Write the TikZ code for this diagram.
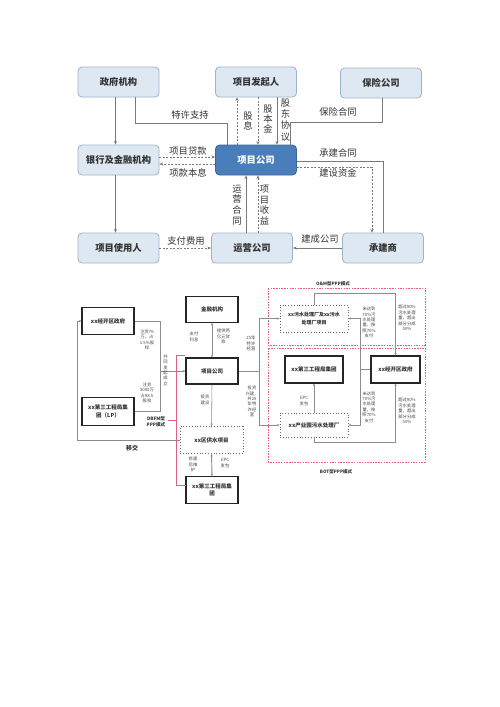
\documentclass[tikz,border=0pt]{standalone}
\usepackage{fontspec}
\setmainfont{Noto Sans CJK SC}
\usetikzlibrary{arrows.meta}
\definecolor{boxfill}{HTML}{DEE8F3}
\definecolor{boxdraw}{HTML}{9DB3CC}
\definecolor{projfill}{HTML}{4A7EBB}
\definecolor{projdraw}{HTML}{3A6699}
\definecolor{lncol}{HTML}{7A7A7A}
\definecolor{blcol}{HTML}{8C8C8C}
\definecolor{txtcol}{HTML}{333333}
\definecolor{redd}{HTML}{E0607E}
\begin{document}
\begin{tikzpicture}[x=1pt,y=-1pt,
  tbox/.style={draw=boxdraw,fill=boxfill,rounded corners=4pt,line width=0.8pt,
    minimum width=81pt,minimum height=30pt,inner sep=0pt,text=txtcol,
    font=\bfseries\fontsize{9.3}{11}\selectfont},
  pbox/.style={tbox,fill=projfill,draw=projdraw,text=white},
  tln/.style={draw=lncol,line width=0.55pt},
  tdsh/.style={tln,dash pattern=on 2pt off 1.5pt},
  tarr/.style={-{Stealth[length=3.6pt,width=3pt]}},
  tlab/.style={text=txtcol,font=\fontsize{9.3}{9.6}\selectfont,inner sep=0pt,align=center},
  bbox/.style={draw=black!85,line width=1.1pt,fill=white,inner sep=0pt,text=txtcol,
    align=center,font=\bfseries\fontsize{5.5}{7.5}\selectfont},
  dbox/.style={bbox,draw=black!60,line width=0.8pt,dotted},
  bln/.style={draw=blcol,line width=0.6pt},
  barr/.style={-{Stealth[length=2.6pt,width=2.2pt]}},
  bdarr/.style={{Stealth[length=2.6pt,width=2.2pt]}-{Stealth[length=2.6pt,width=2.2pt]}},
  blab/.style={text=txtcol!90,font=\fontsize{4.3}{5.4}\selectfont,inner sep=0pt,align=center},
  redbox/.style={draw=redd,line width=0.6pt,dash pattern=on 1.5pt off 1.2pt},
  ]
\useasboundingbox[fill=white] (0,0) rectangle (500,707);

% ---------------- top diagram ----------------
\node[tbox] (gov) at (118.5,82) {政府机构};
\node[tbox] (sponsor) at (256,82) {项目发起人};
\node[tbox] (insure) at (381,83) {保险公司};
\node[tbox] (bank) at (118.5,160) {银行及金融机构};
\node[pbox] (proj) at (256,160) {项目公司};
\node[tbox] (user) at (118.5,248) {项目使用人};
\node[tbox] (ops) at (252,248) {运营公司};
\node[tbox] (contr) at (383,248) {承建商};

\draw[tln,tarr] ([xshift=-3pt]gov.south) -- ([xshift=-3pt]bank.north);
\draw[tln,tarr] ([xshift=-3pt]bank.south) -- ([xshift=-3pt]user.north);

\coordinate (t1) at (227,123);
\draw[tln] ([xshift=16.5pt]gov.south) |- (t1) -- ([xshift=-29pt]proj.north);
\node[tlab] at (190,115) {特许支持};

\draw[tdsh,tarr] ([xshift=-19pt]proj.north) -- ([xshift=-19pt]sponsor.south);
\node[tlab] at (248,121) {股\\息};
\draw[tdsh,tarr] ([xshift=2pt]sponsor.south) -- ([xshift=2pt]proj.north);
\node[tlab] at (268,119) {股\\本\\金};
\draw[tln,tarr] ([xshift=21pt]sponsor.south) -- ([xshift=21pt]proj.north);
\node[tlab,font=\fontsize{9.3}{11.3}\selectfont] at (285.5,120) {股\\东\\协\\议};

\coordinate (t2) at (290,122);
\draw[tln] ([xshift=1pt]insure.south) |- (t2) -- ([xshift=34pt]proj.north);
\node[tlab] at (338,112) {保险合同};

\draw[tdsh,tarr] ([yshift=3pt]bank.east) -- ([yshift=3pt]proj.west);
\node[tlab] at (188,151) {项目贷款};
\draw[tdsh,tarr] ([yshift=-4pt]proj.west) -- ([yshift=-4pt]bank.east);
\node[tlab] at (188,173) {项款本息};

\draw[tln] ([yshift=-1pt]proj.east) -| (contr.north);
\node[tlab] at (338,153) {承建合同};
\draw[tdsh,tarr] ([yshift=-7pt]proj.east) -| ([xshift=-11pt]contr.north);
\node[tlab] at (338,173) {建设资金};

\draw[tln,tarr] ([xshift=-6pt]ops.north) -- ([xshift=-10pt]proj.south);
\node[tlab,font=\fontsize{9.3}{10.8}\selectfont] at (237,205) {运\\营\\合\\同};
\draw[tdsh,tarr] ([xshift=6pt]ops.north) -- ([xshift=2pt]proj.south);
\node[tlab,font=\fontsize{9.3}{10.8}\selectfont] at (264.5,205) {项\\目\\收\\益};

\draw[tdsh,tarr] (user.east) -- (ops.west);
\node[tlab] at (186,241) {支付费用};
\draw[tln,tarr] (contr.west) -- (ops.east);
\node[tlab] at (320,239) {建成公司};

% ---------------- bottom diagram ----------------
\draw[redbox] (268,288) rectangle (425,345);
\draw[redbox] (268,348) rectangle (425,462);
\node[font=\bfseries\fontsize{4.5}{5}\selectfont,text=txtcol,inner sep=0pt] at (333,283.5) {O\&M型PPP模式};
\node[font=\bfseries\fontsize{4.5}{5}\selectfont,text=txtcol,inner sep=0pt] at (336,472) {BOT型PPP模式};

\node[bbox,minimum width=52pt,minimum height=27pt] (lgov) at (108,321) {xx经开区政府};
\node[bbox,minimum width=52pt,minimum height=27.5pt] (lp) at (108,411.5) {xx第三工程局集\\团（LP）};
\node[bbox,minimum width=52pt,minimum height=25.6pt] (fin) at (212,309.5) {金融机构};
\node[bbox,minimum width=52pt,minimum height=26pt] (pc) at (212,371) {项目公司};
\node[dbox,minimum width=63pt,minimum height=26.6pt] (wsp) at (211.5,440) {xx区供水项目};
\node[bbox,minimum width=52pt,minimum height=26.6pt] (grp) at (212,490) {xx第三工程局集\\团};
\node[dbox,minimum width=68pt,minimum height=27pt,font=\bfseries\fontsize{5}{7.5}\selectfont] (om) at (314,318.5) {xx污水处理厂及xx污水\\处理厂项目};
\node[bbox,minimum width=58pt,minimum height=27pt] (grp2) at (314,369.5) {xx第三工程局集团};
\node[bbox,minimum width=49pt,minimum height=27pt] (gov2) at (395.5,369.5) {xx经开区政府};
\node[dbox,minimum width=68pt,minimum height=24pt] (ind) at (314,425) {xx产业园污水处理厂};

% left part
\coordinate (c1) at (77,321);
\draw[bln,barr] (wsp.west) -| (c1) -- (lgov.west);
\node[font=\bfseries\fontsize{6}{7}\selectfont,text=txtcol,inner sep=0pt] at (132,448.5) {移交};

\coordinate (j1) at (160,371);
\coordinate (c2) at (160,411.5);
\draw[bln] (lgov.east) -| (c2) -- (lp.east);
\draw[bln,barr] (j1) -- (pc.west);
\node[blab] at (147,340) {注资76\\万，占\\1.5\%股\\权};
\node[blab] at (147,393) {注资\\5000万\\占98.5\\股权};
\node[blab] at (165.5,370) {共\\同\\发\\起\\成\\立};
\node[font=\bfseries\fontsize{4.6}{5.6}\selectfont,text=txtcol,inner sep=0pt,align=center] at (156,422) {DBFM型\\PPP模式};

\draw[redd,line width=0.5pt] (185,355.7) -- (176.7,355.7) -- (176.7,485) -- (186,485);
\draw[redd,line width=0.5pt] (167.5,420) -- (176.7,420);

\draw[bln,bdarr] (fin.south) -- (pc.north);
\node[blab] at (194,337) {支付\\利息};
\node[blab] at (223.5,336.5) {提供两\\亿元贷\\款};
\draw[bln,barr] (pc.south) -- (wsp.north);
\node[blab] at (205,400) {投资\\建设};
\draw[bln,line width=0.9pt,bdarr] (wsp.south) -- (grp.north);
\node[blab] at (193,464.5) {修建\\后维\\护};
\node[blab] at (225,463) {EPC\\发包};

% right part
\coordinate (j2) at (259,371);
\draw[bln] (pc.east) -- (j2);
\draw[bln,barr] (j2) |- (om.west);
\draw[bln,barr] (j2) |- (ind.west);
\node[blab] at (251,343.5) {25年\\特许\\经营};
\node[blab] at (252,401.5) {投资\\兴建，\\并25\\年特\\许经\\营};

\draw[bln,barr] (ind.north) -- (grp2.south);
\node[blab] at (304,401) {EPC\\发包};

\coordinate (j3) at (360,369.5);
\draw[bln] (gov2.west) -- (j3);
\draw[bln,barr] (j3) |- (om.east);
\draw[bln,barr] (j3) |- (ind.east);
\node[blab] at (369,322.5) {未达到\\70\%污\\水处理\\量，按\\照70\%\\支付};
\node[blab] at (369,407) {未达到\\70\%污\\水处理\\量，按\\照70\%\\支付};

\draw[bln,barr] (om.north) -- ++(0,-11) -| (gov2.north);
\draw[bln,barr] (ind.south) -- ++(0,5) -| (gov2.south);
\node[blab] at (407,318) {超过90\%\\污水处理\\量，超出\\部分分成\\50\%};
\node[blab] at (407,411) {超过90\%\\污水处理\\量，超出\\部分分成\\50\%};
\end{tikzpicture}
\end{document}
